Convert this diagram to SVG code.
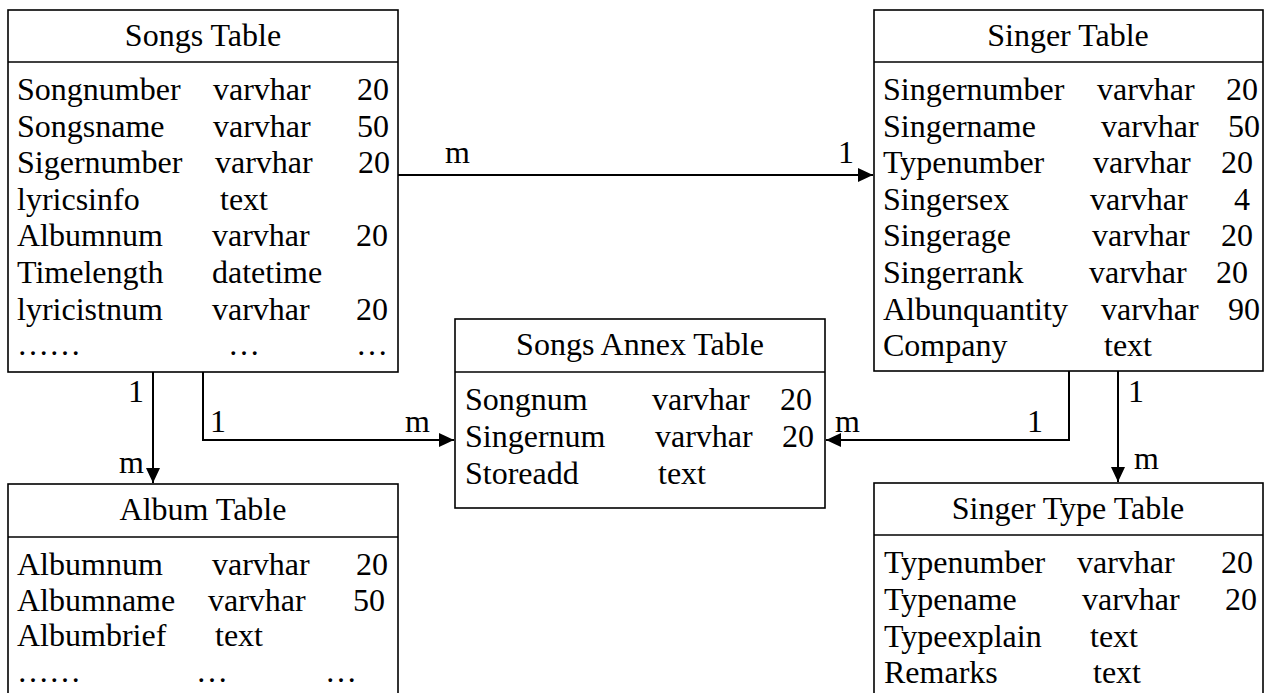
<svg xmlns="http://www.w3.org/2000/svg" width="1270" height="693" viewBox="0 0 1270 693">
<style>
text{font-family:"Liberation Serif","Times New Roman",serif;font-size:32px;fill:#000}
.t{text-anchor:middle}
.r{text-anchor:end}
.box{fill:#fff;stroke:#000;stroke-width:1.6}
.conn{fill:none;stroke:#000;stroke-width:2}
</style>
<defs>
<marker id="arr" viewBox="0 0 15 14" refX="15" refY="7" markerWidth="15" markerHeight="14" markerUnits="userSpaceOnUse" orient="auto">
<path d="M0,0 L15,7 L0,14 Z" fill="#000"/>
</marker>
</defs>
<g id="connectors">
<path class="conn" d="M398,175 H873" marker-end="url(#arr)"/>
<path class="conn" d="M153,372 V483" marker-end="url(#arr)"/>
<path class="conn" d="M203,372 V440 H454" marker-end="url(#arr)"/>
<path class="conn" d="M1069,371 V440 H826" marker-end="url(#arr)"/>
<path class="conn" d="M1118,371 V482" marker-end="url(#arr)"/>
<text x="445" y="163">m</text>
<text x="838" y="163">1</text>
<text x="128" y="402">1</text>
<text x="119" y="473">m</text>
<text x="210" y="432">1</text>
<text x="405" y="432">m</text>
<text x="835" y="432">m</text>
<text x="1027" y="432">1</text>
<text x="1128" y="402">1</text>
<text x="1134" y="469">m</text>
</g>
<g id="songs">
<rect class="box" x="8" y="10" width="390" height="362"/>
<line class="box" x1="8" y1="62" x2="398" y2="62"/>
<text class="t" x="203" y="46">Songs Table</text>
<text x="17" y="100">Songnumber</text><text x="213" y="100">varvhar</text><text class="r" x="389" y="100">20</text>
<text x="17" y="137">Songsname</text><text x="213" y="137">varvhar</text><text class="r" x="389" y="137">50</text>
<text x="17" y="173">Sigernumber</text><text x="215" y="173">varvhar</text><text class="r" x="390" y="173">20</text>
<text x="17" y="210">lyricsinfo</text><text x="220" y="210">text</text>
<text x="17" y="246">Albumnum</text><text x="212" y="246">varvhar</text><text class="r" x="388" y="246">20</text>
<text x="17" y="283">Timelength</text><text x="212" y="283">datetime</text>
<text x="17" y="320">lyricistnum</text><text x="212" y="320">varvhar</text><text class="r" x="388" y="320">20</text>
<text x="17" y="355">……</text><text x="228" y="355">…</text><text x="356" y="355">…</text>
</g>
<g id="singer">
<rect class="box" x="874" y="10" width="389" height="361"/>
<line class="box" x1="874" y1="62" x2="1263" y2="62"/>
<text class="t" x="1068" y="46">Singer Table</text>
<text x="883" y="100">Singernumber</text><text x="1097" y="100">varvhar</text><text class="r" x="1258" y="100">20</text>
<text x="883" y="137">Singername</text><text x="1101" y="137">varvhar</text><text class="r" x="1260" y="137">50</text>
<text x="883" y="173">Typenumber</text><text x="1093" y="173">varvhar</text><text class="r" x="1253" y="173">20</text>
<text x="883" y="210">Singersex</text><text x="1090" y="210">varvhar</text><text class="r" x="1250" y="210">4</text>
<text x="883" y="246">Singerage</text><text x="1092" y="246">varvhar</text><text class="r" x="1253" y="246">20</text>
<text x="883" y="283">Singerrank</text><text x="1089" y="283">varvhar</text><text class="r" x="1248" y="283">20</text>
<text x="883" y="320">Albunquantity</text><text x="1101" y="320">varvhar</text><text class="r" x="1260" y="320">90</text>
<text x="883" y="356">Company</text><text x="1104" y="356">text</text>
</g>
<g id="annex">
<rect class="box" x="455" y="319" width="370" height="189"/>
<line class="box" x1="455" y1="372" x2="825" y2="372"/>
<text class="t" x="640" y="355">Songs Annex Table</text>
<text x="465" y="410">Songnum</text><text x="652" y="410">varvhar</text><text class="r" x="812" y="410">20</text>
<text x="465" y="447">Singernum</text><text x="655" y="447">varvhar</text><text class="r" x="814" y="447">20</text>
<text x="465" y="484">Storeadd</text><text x="658" y="484">text</text>
</g>
<g id="album">
<rect class="box" x="8" y="484" width="390" height="230"/>
<line class="box" x1="8" y1="537" x2="398" y2="537"/>
<text class="t" x="203" y="520">Album Table</text>
<text x="17" y="575">Albumnum</text><text x="212" y="575">varvhar</text><text class="r" x="388" y="575">20</text>
<text x="17" y="611">Albumname</text><text x="208" y="611">varvhar</text><text class="r" x="385" y="611">50</text>
<text x="17" y="646">Albumbrief</text><text x="215" y="646">text</text>
<text x="17" y="682">……</text><text x="196" y="682">…</text><text x="325" y="682">…</text>
</g>
<g id="singertype">
<rect class="box" x="874" y="483" width="389" height="230"/>
<line class="box" x1="874" y1="535" x2="1263" y2="535"/>
<text class="t" x="1068" y="519">Singer Type Table</text>
<text x="884" y="573">Typenumber</text><text x="1077" y="573">varvhar</text><text class="r" x="1253" y="573">20</text>
<text x="884" y="610">Typename</text><text x="1082" y="610">varvhar</text><text class="r" x="1257" y="610">20</text>
<text x="884" y="647">Typeexplain</text><text x="1090" y="647">text</text>
<text x="884" y="683">Remarks</text><text x="1093" y="683">text</text>
</g>
</svg>
